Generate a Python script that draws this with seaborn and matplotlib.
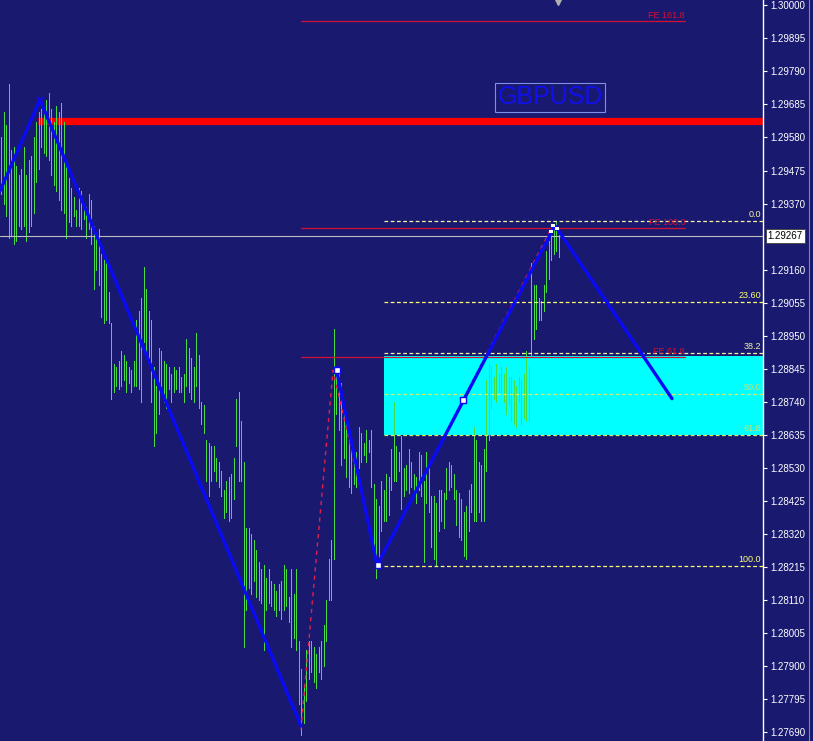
import matplotlib
matplotlib.use("Agg")
import matplotlib.pyplot as plt
import matplotlib.transforms as mtransforms
from matplotlib.lines import Line2D
from matplotlib.patches import Rectangle
import numpy as np
import pandas as pd
import seaborn as sns

# ---------------- data ----------------
high = [
    1.2958, 1.2966, 1.2962, 1.2975, 1.2954, 1.2955, 1.2949, 1.2946,
    1.2948, 1.2955, 1.2946, 1.2951, 1.2952, 1.2958, 1.2963, 1.2966,
    1.2967, 1.2966, 1.2970, 1.2972, 1.2967, 1.2963, 1.2968, 1.2966,
    1.2969, 1.2963, 1.2950, 1.2945, 1.2942, 1.2939, 1.2935, 1.2942,
    1.2941, 1.2937, 1.2936, 1.2940, 1.2938, 1.2930, 1.2927, 1.2929,
    1.2921, 1.2919, 1.2920, 1.2909, 1.2899, 1.2886, 1.2885, 1.2887,
    1.2890, 1.2889, 1.2887, 1.2885, 1.2884, 1.2887, 1.2900, 1.2903,
    1.2907, 1.2917, 1.2910, 1.2903, 1.2900, 1.2885, 1.2879, 1.2891,
    1.2890, 1.2887, 1.2886, 1.2885, 1.2883, 1.2885, 1.2884, 1.2885,
    1.2882, 1.2883, 1.2894, 1.2891, 1.2888, 1.2885, 1.2896, 1.2889,
    1.2874, 1.2873, 1.2862, 1.2861, 1.2860, 1.2860, 1.2856, 1.2855,
    1.2852, 1.2846, 1.2849, 1.2850, 1.2851, 1.2856, 1.2875, 1.2877,
    1.2868, 1.2855, 1.2834, 1.2834, 1.2832, 1.2830, 1.2827, 1.2823,
    1.2821, 1.2822, 1.2818, 1.2821, 1.2817, 1.2816, 1.2814, 1.2816,
    1.2817, 1.2822, 1.2821, 1.2812, 1.2821, 1.2813, 1.2821, 1.2798,
    1.2789, 1.2784, 1.2795, 1.2798, 1.2798, 1.2796, 1.2794, 1.2796,
    1.2798, 1.2803, 1.2811, 1.2824, 1.2830, 1.2897, 1.2885, 1.2883,
    1.2880, 1.2873, 1.2868, 1.2866, 1.2858, 1.2855, 1.2858, 1.2866,
    1.2864, 1.2861, 1.2865, 1.2862, 1.2865, 1.2848, 1.2843, 1.2841,
    1.2849, 1.2846, 1.2851, 1.2850, 1.2859, 1.2874, 1.2860, 1.2858,
    1.2863, 1.2853, 1.2854, 1.2859, 1.2855, 1.2851, 1.2850, 1.2858,
    1.2857, 1.2849, 1.2858, 1.2855, 1.2844, 1.2844, 1.2842, 1.2846,
    1.2846, 1.2845, 1.2853, 1.2855, 1.2854, 1.2851, 1.2846, 1.2845,
    1.2843, 1.2839, 1.2841, 1.2846, 1.2848, 1.2866, 1.2862, 1.2855,
    1.2854, 1.2859, 1.2881, 1.2886, 1.2885, 1.2882, 1.2886, 1.2883,
    1.2885, 1.2883, 1.2885, 1.2882, 1.2882, 1.2881, 1.2879, 1.2882,
    1.2881, 1.2883, 1.2890, 1.2885, 1.2918, 1.2911, 1.2911, 1.2907,
    1.2906, 1.2911, 1.2922, 1.2925, 1.2929, 1.2930, 1.2931, 1.2929,
]
low = [
    1.2940, 1.2937, 1.2933, 1.2926, 1.2927, 1.2924, 1.2925, 1.2930,
    1.2929, 1.2930, 1.2925, 1.2928, 1.2930, 1.2934, 1.2944, 1.2948,
    1.2955, 1.2953, 1.2952, 1.2951, 1.2946, 1.2943, 1.2941, 1.2938,
    1.2935, 1.2934, 1.2926, 1.2931, 1.2930, 1.2933, 1.2930, 1.2930,
    1.2929, 1.2932, 1.2926, 1.2929, 1.2924, 1.2910, 1.2916, 1.2911,
    1.2901, 1.2899, 1.2900, 1.2899, 1.2875, 1.2877, 1.2879, 1.2878,
    1.2879, 1.2881, 1.2877, 1.2880, 1.2877, 1.2879, 1.2879, 1.2878,
    1.2874, 1.2893, 1.2890, 1.2886, 1.2874, 1.2860, 1.2864, 1.2870,
    1.2879, 1.2874, 1.2872, 1.2878, 1.2874, 1.2877, 1.2878, 1.2877,
    1.2877, 1.2874, 1.2879, 1.2877, 1.2875, 1.2874, 1.2879, 1.2872,
    1.2867, 1.2864, 1.2849, 1.2844, 1.2849, 1.2852, 1.2849, 1.2847,
    1.2844, 1.2837, 1.2839, 1.2836, 1.2837, 1.2843, 1.2860, 1.2849,
    1.2849, 1.2796, 1.2808, 1.2815, 1.2813, 1.2817, 1.2812, 1.2811,
    1.2810, 1.2795, 1.2808, 1.2810, 1.2809, 1.2808, 1.2806, 1.2808,
    1.2805, 1.2808, 1.2809, 1.2804, 1.2796, 1.2799, 1.2795, 1.2778,
    1.2768, 1.2772, 1.2779, 1.2786, 1.2788, 1.2785, 1.2783, 1.2788,
    1.2786, 1.2790, 1.2798, 1.2811, 1.2811, 1.2824, 1.2870, 1.2865,
    1.2854, 1.2856, 1.2850, 1.2847, 1.2845, 1.2848, 1.2847, 1.2853,
    1.2855, 1.2857, 1.2855, 1.2858, 1.2847, 1.2826, 1.2818, 1.2822,
    1.2833, 1.2836, 1.2836, 1.2838, 1.2846, 1.2849, 1.2849, 1.2852,
    1.2840, 1.2844, 1.2846, 1.2845, 1.2847, 1.2844, 1.2842, 1.2846,
    1.2844, 1.2823, 1.2842, 1.2839, 1.2828, 1.2824, 1.2822, 1.2833,
    1.2836, 1.2834, 1.2843, 1.2846, 1.2847, 1.2843, 1.2835, 1.2831,
    1.2830, 1.2825, 1.2824, 1.2833, 1.2839, 1.2836, 1.2836, 1.2839,
    1.2836, 1.2836, 1.2852, 1.2862, 1.2872, 1.2875, 1.2874, 1.2877,
    1.2877, 1.2874, 1.2870, 1.2873, 1.2868, 1.2867, 1.2866, 1.2874,
    1.2867, 1.2869, 1.2868, 1.2868, 1.2889, 1.2894, 1.2897, 1.2900,
    1.2900, 1.2903, 1.2909, 1.2913, 1.2919, 1.2921, 1.2922, 1.2920,
]

price_ticks = [1.30000, 1.29895, 1.29790, 1.29685, 1.29580, 1.29475, 1.29370,
               1.29160, 1.29055, 1.28950, 1.28845, 1.28740, 1.28635,
               1.28530, 1.28425, 1.28320, 1.28215, 1.28110, 1.28005, 1.27900,
               1.27795, 1.27690]
current_price = 1.29267
resistance = 1.29632

fib_labels = ["0.0", "23.60", "38.2", "50.0", "61.8", "100.0"]
fib_prices = [1.29314, 1.29057, 1.28895, 1.28764, 1.28634, 1.28218]
zone_top, zone_bottom = 1.28886, 1.28634

fe_labels = ["FE 161.8", "FE 100.0", "FE 61.8"]
fe_prices = [1.29949, 1.29292, 1.28882]

# zigzag swing points (bar index, price)
zz1_bar = [-0.4, 15.6, 120.0]
zz1_price = [1.2941, 1.2970, 1.2771]
zz2_bar = [134.0, 150.4, 221.6, 268.4]
zz2_price = [1.2885, 1.2822, 1.2930, 1.2875]
fe_tri_bar = [120.0, 132.8, 150.8, 220.0]
fe_tri_price = [1.2770, 1.2884, 1.2822, 1.2929]
sq_bar = [184.8, 150.8, 134.4]
sq_price = [1.28745, 1.2822, 1.2884]
dot_bar = [220.0, 220.8, 222.4]
dot_price = [1.2928, 1.2930, 1.2929]

# ---------------- layout helpers ----------------
W, H = 813, 741
AX_W = 763
TOP = 1.300168
SLOPE = 3.1774e-5
BOTTOM = TOP - H * SLOPE

def bx(px):
    return (px - 1) / 2.5

def py(y):
    return TOP - y * SLOPE

BG = "#191970"
GREEN = "#46dc46"
BLUE = "#0a0af5"
RED = "#d41030"
YEL = "#ffff70"

sns.set_style("dark")
plt.rcParams["font.family"] = ["Liberation Sans", "DejaVu Sans"]

fig = plt.figure(figsize=(W / 100, H / 100), dpi=100)
fig.patch.set_facecolor(BG)
ax = fig.add_axes([0, 0, AX_W / W, 1])
ax.set_facecolor(BG)
ax.grid(False)

# cyan zone
ax.add_patch(Rectangle((bx(384), zone_bottom), bx(763) - bx(384), zone_top - zone_bottom,
                       facecolor="#00ffff", edgecolor="none", zorder=1))

# thick red resistance
ax.plot([bx(38), bx(763)], [resistance, resistance], color="#ff0000", lw=5.2,
        solid_capstyle="butt", zorder=1.5)

# bars with seaborn
n = len(high)
bars = np.arange(n)
df = pd.DataFrame({"bar": np.concatenate([bars, bars]),
                   "price": np.concatenate([high, low])})
sns.lineplot(data=df, x="bar", y="price", units="bar", estimator=None,
             color=GREEN, lw=0.55, antialiased=False, ax=ax, zorder=2, legend=False)

# current price line
ax.axhline(current_price, color="#c0c0c0", lw=0.8, zorder=2.5)

# fibonacci retracement lines
for lab, p in zip(fib_labels, fib_prices):
    col = "#f5f5a0" if lab in ("38.2", "0.0") else YEL
    if lab in ("50.0", "61.8"):
        col = "#d8e860"
    ax.plot([bx(384), bx(763)], [p, p], color=col, lw=0.9, ls=(0, (3, 2)), zorder=3)
    ax.text(bx(761), p + 2.0 * SLOPE, lab, color=col if lab not in ("50.0", "61.8") else "#c8e070",
            fontsize=6.5, ha="right", va="bottom", zorder=6)

# FE lines
for lab, p in zip(fe_labels, fe_prices):
    ax.plot([bx(301), bx(685)], [p, p], color=RED, lw=0.9, zorder=3)
    ax.text(bx(685), p + 1.5 * SLOPE, lab, color=RED, fontsize=6.5, ha="right", va="bottom", zorder=6)

# FE triangle dashed
ax.plot(fe_tri_bar, fe_tri_price, color="#e0204a", lw=1.0, ls=(0, (3, 3)), zorder=3.5)

# zigzag
sns.lineplot(x=zz1_bar, y=zz1_price, sort=False, estimator=None, color=BLUE, lw=2.4, ax=ax, zorder=4)
sns.lineplot(x=zz2_bar, y=zz2_price, sort=False, estimator=None, color=BLUE, lw=2.4, ax=ax, zorder=4)

ax.scatter(sq_bar, sq_price, marker="s", s=14, facecolor="white", edgecolor=BLUE, lw=1.0, zorder=5)
ax.scatter(dot_bar, dot_price, marker="s", s=5, facecolor="white", edgecolor="none", zorder=5)
ax.plot([15.6], [1.2970], marker="x", ms=5, color=BLUE, mew=1.2, zorder=5)

# GBPUSD label
ax.text(bx(550), py(97), "GBPUSD", color="#1010ee", fontsize=18, ha="center", va="center",
        zorder=6, bbox=dict(boxstyle="square,pad=0.1", facecolor="none", edgecolor="#7f8fe8", lw=0.8))

# chart-shift marker at top
trans = mtransforms.blended_transform_factory(ax.transData, ax.transAxes)
ax.plot([bx(558)], [0.997], marker="v", ms=5, color="#b0b0b0", transform=trans, clip_on=False, zorder=6)

ax.set_xlim(bx(0), bx(AX_W))
ax.set_ylim(BOTTOM, TOP)
ax.set_xlabel("")
ax.set_ylabel("")
ax.set_xticks([])

ax.yaxis.tick_right()
ax.set_yticks(price_ticks)
ax.set_yticklabels([f"{t:.5f}" for t in price_ticks])
ax.tick_params(axis="y", colors="white", labelcolor="white", length=3, width=0.8,
               pad=2.5, labelsize=7, direction="out", right=True, left=False)
for s in ("top", "left", "bottom"):
    ax.spines[s].set_visible(False)
ax.spines["right"].set_color("white")
ax.spines["right"].set_linewidth(1.0)

ax.annotate(f"{current_price:.5f}", xy=(1.0, current_price), xycoords=("axes fraction", "data"),
            xytext=(3.2, 0), textcoords="offset points", ha="left", va="center", fontsize=7,
            color="black", annotation_clip=False,
            bbox=dict(boxstyle="square,pad=0.2", facecolor="white", edgecolor="#404040", lw=0.6))

fig.add_artist(Line2D([809 / W, 809 / W], [0, 1], color="#8a8a8a", lw=0.8))

fig.savefig("out.png", dpi=100, facecolor=BG)
